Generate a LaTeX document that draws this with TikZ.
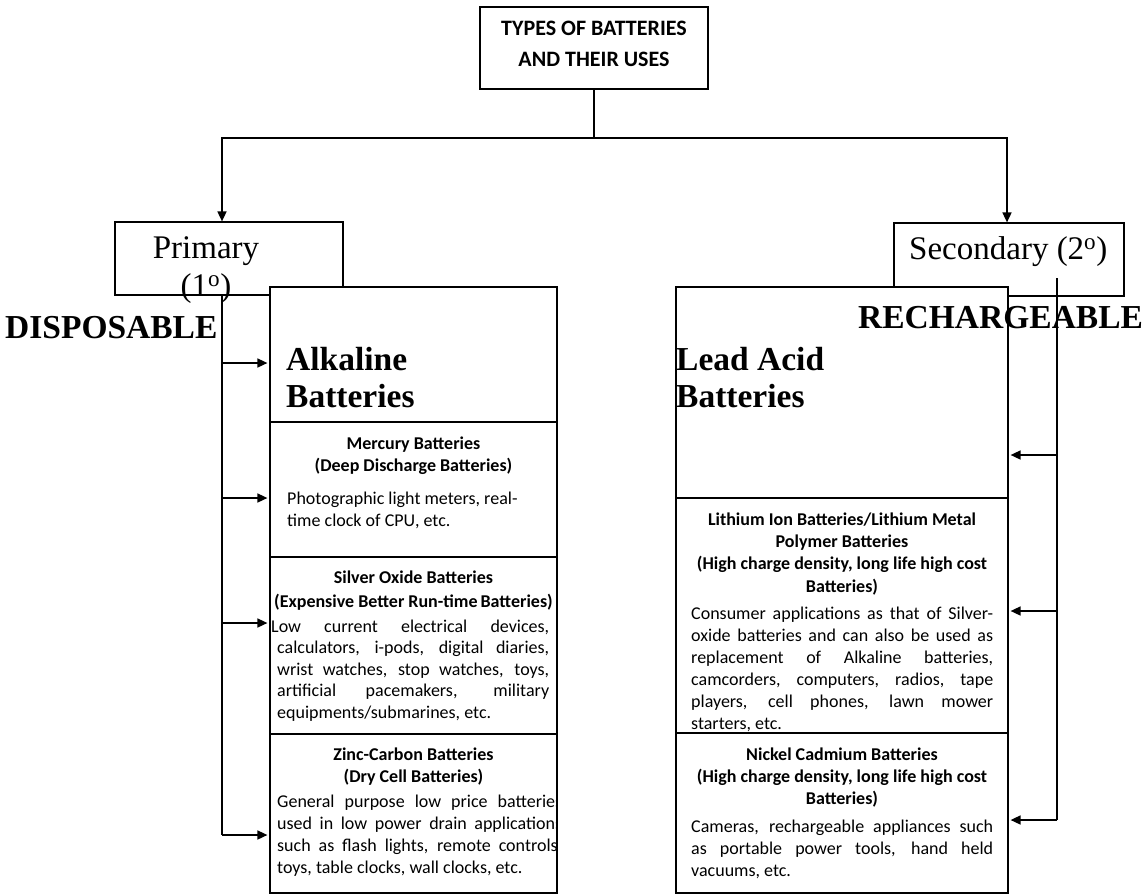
\documentclass[tikz,border=0pt]{standalone}
\usepackage{fontspec}
\setmainfont{Liberation Serif}
\newfontfamily\carlito{Carlito}
\usetikzlibrary{arrows.meta}

\begin{document}
\begin{tikzpicture}[x=1pt,y=-1pt,
  boxframe/.style={draw=black,line width=1.2pt,fill=white,inner sep=0pt},
  bodytext/.style={font=\carlito\fontsize{18}{22}\selectfont,inner sep=0pt,anchor=base west,align=justify},
  boxtitle/.style={font=\carlito\bfseries\fontsize{18}{22}\selectfont,inner sep=0pt,anchor=base,align=center},
  tms/.style={font=\fontsize{33}{38}\selectfont,inner sep=0pt},
  bighead/.style={font=\bfseries\fontsize{33.5}{37}\selectfont,inner sep=0pt,anchor=base west,align=left},
  conn/.style={line width=1.6pt},
  arr/.style={line width=1.6pt,shorten >=2pt,-{Triangle[length=10pt,width=9pt]}}]
\useasboundingbox (0,0) rectangle (1144,895);
\node[boxframe,minimum width=228pt,minimum height=82pt] (types) at (594,48) {};
\node[boxframe,minimum width=228pt,minimum height=73pt] (primary) at (229,258.5) {};
\node[boxframe,minimum width=230pt,minimum height=73pt] (secondary) at (1009,259.5) {};
\node[boxframe,minimum width=287pt,minimum height=135pt] (alkaline) at (413.5,354.5) {};
\node[boxframe,minimum width=287pt,minimum height=135pt] (mercury) at (413.5,489.5) {};
\node[boxframe,minimum width=287pt,minimum height=177pt] (silver) at (413.5,645.5) {};
\node[boxframe,minimum width=287pt,minimum height=159pt] (zinc) at (413.5,813.5) {};
\node[boxframe,minimum width=332pt,minimum height=211pt] (lead) at (842,392.5) {};
\node[boxframe,minimum width=332pt,minimum height=235pt] (lithium) at (842,615.5) {};
\node[boxframe,minimum width=332pt,minimum height=160pt] (nickel) at (842,813) {};
\node[boxtitle,font=\carlito\bfseries\fontsize{22}{31}\selectfont] (typestext) at (594,66) {TYPES OF BATTERIES\\AND THEIR USES};
\node[tms,anchor=base,align=center] (primarytext) at (206,296) {Primary\\(1\textsuperscript{o})};
\node[tms,anchor=base west] (secondarytext) at (909,259) {Secondary (2\textsuperscript{o})};
\node[bighead] (disposable) at (5,338) {DISPOSABLE};
\node[bighead] (rechargeable) at (858,328) {RECHARGEABLE};
\node[bighead] (alkalinetext) at (286,407) {Alkaline\\Batteries};
\node[bighead] (leadtext) at (676,407) {Lead Acid\\Batteries};
\node[boxtitle] (mercurytitle) at (413.5,471) {Mercury Batteries\\(Deep Discharge Batteries)};
\node[bodytext,align=left] (mercurybody) at (287,526) {Photographic light meters, real-\\time clock of CPU, etc.};
\node[boxtitle] (silvertitle) at (413.5,607) {Silver Oxide Batteries\\[2pt](Expensive Better Run-time\,Batteries)};
\node[bodytext,font=\carlito\fontsize{18}{21.5}\selectfont,text width=272pt] (silverbody) at (277,632) {\hspace*{-6pt}Low current electrical devices,\linebreak calculators, i-pods, digital diaries,\linebreak wrist watches, stop watches, toys,\linebreak artificial pacemakers, military\linebreak equipments/submarines, etc.};
\node[boxtitle] (zinctitle) at (413.5,782) {Zinc-Carbon Batteries\\(Dry Cell Batteries)};
\begin{scope}
\clip (zinc.north west) rectangle (zinc.south east);
\node[bodytext,text width=285pt] (zincbody) at (277,807) {General purpose low price batteries\linebreak used in low power drain applications\linebreak such as flash lights, remote controls,\linebreak toys, table clocks, wall clocks, etc.};
\end{scope}
\node[boxtitle,font=\carlito\bfseries\fontsize{18}{22.3}\selectfont] (lithiumtitle) at (842,592) {Lithium Ion Batteries/Lithium Metal\\Polymer Batteries\\(High charge density, long life high cost\\Batteries)};
\node[bodytext,text width=302pt] (lithiumbody) at (691,619) {Consumer applications as that of Silver-\linebreak oxide batteries and can also be used as\linebreak replacement of Alkaline batteries,\linebreak camcorders, computers, radios, tape\linebreak players, cell phones, lawn mower\linebreak starters, etc.};
\node[boxtitle] (nickeltitle) at (842,804) {Nickel Cadmium Batteries\\(High charge density, long life high cost\\Batteries)};
\node[bodytext,text width=302pt] (nickelbody) at (691,832) {Cameras, rechargeable appliances such\linebreak as portable power tools, hand held\linebreak vacuums, etc.};
\coordinate (split) at (594,138);
\coordinate (ltrunk) at (222,835);
\coordinate (la) at (222,363);
\coordinate (lb) at (222,498);
\coordinate (lc) at (222,623);
\coordinate (rtop) at (1057,278);
\coordinate (ra) at (1057,455);
\coordinate (rb) at (1057,611);
\coordinate (rbot) at (1057,820);
\draw[conn] (types.south) -- (split);
\draw[arr,shorten >=0pt] (split) -| ([xshift=-7pt]primary.north);
\draw[arr,shorten >=0pt] (split) -| ([xshift=-2pt]secondary.north);
\draw[conn] (primary.south -| ltrunk) -- (ltrunk);
\draw[arr] (la) -- (la -| alkaline.west);
\draw[arr] (lb) -- (lb -| mercury.west);
\draw[arr] (lc) -- (lc -| silver.west);
\draw[arr] (ltrunk) -- (ltrunk -| zinc.west);
\draw[line width=1.3pt] (rtop) -- (rbot);
\draw[arr] (ra) -- (ra -| lead.east);
\draw[arr] (rb) -- (rb -| lithium.east);
\draw[arr] (rbot) -- (rbot -| nickel.east);
\end{tikzpicture}
\end{document}
